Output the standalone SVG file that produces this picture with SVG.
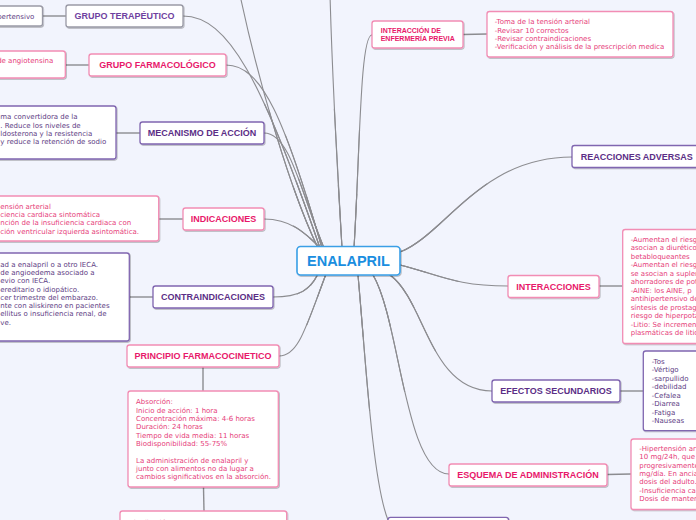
<svg xmlns="http://www.w3.org/2000/svg" xmlns:xlink="http://www.w3.org/1999/xlink" width="696" height="520" viewBox="0 0 696 520">
<defs>
<filter id="sh" x="-10%" y="-10%" width="130%" height="140%">
<feDropShadow dx="0.8" dy="1" stdDeviation="0.7" flood-color="#000" flood-opacity="0.28"/>
</filter>
<style>
.bg{fill:#f2f4fd}
.con{fill:none;stroke:#8c8c90;stroke-linecap:round}
.w1{stroke-width:1.1}
.w2{stroke-width:1.8;stroke-dasharray:0 45 55}
.w3{stroke-width:2.6;stroke-dasharray:0 75 25}
.lnk{fill:none;stroke:#8c8c90;stroke-width:1.4}
.box{fill:#ffffff;stroke-width:1.3;filter:url(#sh)}
.pk{stroke:#f28db4}
.pu{stroke:#8066b0}
.gr{stroke:#9a9aa6}
.bl{stroke:#3a9fe6;stroke-width:1.6}
.lbl{font-family:"Liberation Sans",Arial,sans-serif;font-weight:bold;font-size:9px}
.lp{fill:#e8186a}
.lu{fill:#5b2e86}
.lg{fill:#6f3fa0}
.det{font-family:"DejaVu Sans",Verdana,sans-serif;font-size:7px}
.dp{fill:#e6407a}
.du{fill:#5e3d84}
.main{font-family:"Liberation Sans",Arial,sans-serif;font-weight:bold;font-size:14.5px;fill:#1a8ee0}
</style>
</defs>
<rect class="bg" x="0" y="0" width="696" height="520"/>

<g id="connectors">
<path id="c1" class="con w1" pathLength="100" d="M 240,-5 C 258,80 290,190 318,248"/>
<path id="c2" class="con w1" pathLength="100" d="M 183,16 C 228,16 262,80 320,248"/>
<path id="c3" class="con w1" pathLength="100" d="M 226,65 C 262,65 285,120 322,248"/>
<path id="c4" class="con w1" pathLength="100" d="M 264,133 C 290,133 300,190 324,248"/>
<path id="c5" class="con w1" pathLength="100" d="M 264,219 C 290,219 305,232 322,250"/>
<path id="c6" class="con w1" pathLength="100" d="M 273,297 C 300,297 310,290 318,274"/>
<path id="c7" class="con w1" pathLength="100" d="M 279,356 C 298,356 305,330 326,274"/>
<path id="c8" class="con w1" pathLength="100" d="M 330,-5 C 333,100 338,180 342,248"/>
<path id="c9" class="con w1" pathLength="100" d="M 372,35 C 360,35 360,150 354,248"/>
<path id="c10" class="con w1" pathLength="100" d="M 572,157 C 480,157 445,235 400,252"/>
<path id="c11" class="con w1" pathLength="100" d="M 508,286 C 455,286 440,275 400,265"/>
<path id="c12" class="con w1" pathLength="100" d="M 492,391 C 430,391 425,300 390,275"/>
<path id="c13" class="con w1" pathLength="100" d="M 449,474 C 405,474 400,320 373,275"/>
<path id="c14" class="con w1" pathLength="100" d="M 388,520 C 372,480 365,350 358,275"/>
<use xlink:href="#c1" class="con w2"/><use xlink:href="#c1" class="con w3"/>
<use xlink:href="#c2" class="con w2"/><use xlink:href="#c2" class="con w3"/>
<use xlink:href="#c3" class="con w2"/><use xlink:href="#c3" class="con w3"/>
<use xlink:href="#c4" class="con w2"/><use xlink:href="#c4" class="con w3"/>
<use xlink:href="#c5" class="con w2"/><use xlink:href="#c5" class="con w3"/>
<use xlink:href="#c6" class="con w2"/><use xlink:href="#c6" class="con w3"/>
<use xlink:href="#c7" class="con w2"/><use xlink:href="#c7" class="con w3"/>
<use xlink:href="#c8" class="con w2"/><use xlink:href="#c8" class="con w3"/>
<use xlink:href="#c9" class="con w2"/><use xlink:href="#c9" class="con w3"/>
<use xlink:href="#c10" class="con w2"/><use xlink:href="#c10" class="con w3"/>
<use xlink:href="#c11" class="con w2"/><use xlink:href="#c11" class="con w3"/>
<use xlink:href="#c12" class="con w2"/><use xlink:href="#c12" class="con w3"/>
<use xlink:href="#c13" class="con w2"/><use xlink:href="#c13" class="con w3"/>
<use xlink:href="#c14" class="con w2"/><use xlink:href="#c14" class="con w3"/>
<path class="lnk" d="M 42,16 L 66,16"/>
<path class="lnk" d="M 65,65 L 89,65"/>
<path class="lnk" d="M 116,133 L 140,133"/>
<path class="lnk" d="M 159,219 L 183,219"/>
<path class="lnk" d="M 129,297 L 153,297"/>
<path class="lnk" d="M 203,367 L 203,391"/>
<path class="lnk" d="M 203.5,487 L 204,511"/>
<path class="lnk" d="M 463,34.5 L 487,34"/>
<path class="lnk" d="M 599,286 L 623,286"/>
<path class="lnk" d="M 620,391 L 643,391"/>
<path class="lnk" d="M 607,474.5 L 631,474"/>
</g>

<g id="n-grupo-terapeutico">
<rect class="box gr" x="-5" y="6" width="47.5" height="20" rx="2.5"/>
<text class="det du" x="34.3" y="18.6" text-anchor="end">pertensivo</text>
<rect class="box gr" x="66" y="5" width="117" height="22" rx="2.5"/>
<text class="lbl lg" x="124.5" y="19.2" text-anchor="middle">GRUPO TERAPÉUTICO</text>
</g>

<g id="n-grupo-farmacologico">
<rect class="box pk" x="-5" y="51" width="70.3" height="27" rx="2.5"/>
<text class="det dp" x="53.3" y="63.2" text-anchor="end">de angiotensina</text>
<rect class="box pk" x="89" y="54" width="137" height="22" rx="2.5"/>
<text class="lbl lp" x="157.5" y="68.2" text-anchor="middle">GRUPO FARMACOLÓGICO</text>
</g>

<g id="n-mecanismo">
<rect class="box pu" x="-5" y="106" width="121" height="53" rx="2.5"/>
<text class="det du"><tspan x="0.3" y="119.2">ma convertidora de la</tspan><tspan x="0.3" y="127.5">. Reduce los niveles de</tspan><tspan x="0.3" y="135.8">ldosterona y la resistencia</tspan><tspan x="0.3" y="144.1">y reduce la retención de sodio</tspan></text>
<rect class="box pu" x="140" y="122" width="124" height="22" rx="2.5"/>
<text class="lbl lu" x="202" y="136.2" text-anchor="middle">MECANISMO DE ACCIÓN</text>
</g>

<g id="n-indicaciones">
<rect class="box pk" x="-5" y="196" width="163.7" height="45" rx="2.5"/>
<text class="det dp"><tspan x="0.3" y="208.5">ensión arterial</tspan><tspan x="0.3" y="216.9">ciencia cardiaca sintomática</tspan><tspan x="0.3" y="225.3">nción de la insuficiencia cardiaca con</tspan><tspan x="0.3" y="233.7">ción ventricular izquierda asintomática.</tspan></text>
<rect class="box pk" x="183" y="208" width="81" height="22" rx="2.5"/>
<text class="lbl lp" x="223.5" y="222.2" text-anchor="middle">INDICACIONES</text>
</g>

<g id="n-contraindicaciones">
<rect class="box pu" x="-5" y="253" width="134.3" height="88" rx="2.5"/>
<text class="det du"><tspan x="0.3" y="266.6">ad a enalapril o a otro IECA.</tspan><tspan x="0.3" y="274.9">de angioedema asociado a</tspan><tspan x="0.3" y="283.2">evio con IECA.</tspan><tspan x="0.3" y="291.5">ereditario o idiopático.</tspan><tspan x="0.3" y="299.8">cer trimestre del embarazo.</tspan><tspan x="0.3" y="308.1">nte con aliskireno en pacientes</tspan><tspan x="0.3" y="316.4">ellitus o insuficiencia renal, de</tspan><tspan x="0.3" y="324.7">ve.</tspan></text>
<rect class="box pu" x="153" y="286" width="120" height="22" rx="2.5"/>
<text class="lbl lu" x="213" y="300.2" text-anchor="middle">CONTRAINDICACIONES</text>
</g>

<g id="n-principio">
<rect class="box pk" x="127" y="345" width="152" height="22" rx="2.5"/>
<text class="lbl lp" x="203" y="359.2" text-anchor="middle">PRINCIPIO FARMACOCINETICO</text>
<rect class="box pk" x="128" y="391" width="150.3" height="96" rx="2.5"/>
<text class="det dp"><tspan x="136" y="404.2">Absorción:</tspan><tspan x="136" y="412.55">Inicio de acción: 1 hora</tspan><tspan x="136" y="420.9">Concentración máxima: 4-6 horas</tspan><tspan x="136" y="429.25">Duración: 24 horas</tspan><tspan x="136" y="437.6">Tiempo de vida media: 11 horas</tspan><tspan x="136" y="445.95">Biodisponibilidad: 55-75%</tspan><tspan x="136" y="462.65">La administración de enalapril y</tspan><tspan x="136" y="471">junto con alimentos no da lugar a</tspan><tspan x="136" y="479.35">cambios significativos en la absorción.</tspan></text>
<rect class="box pk" x="120" y="511" width="166.7" height="20" rx="2.5"/>
<text class="det dp" x="128.3" y="524.5">Distribución:</text>
</g>

<g id="n-interaccion-enfermeria">
<rect class="box pk" x="372" y="21" width="91" height="27" rx="2.5"/>
<text class="lbl lp" style="font-size:7px"><tspan x="380.7" y="32.8">INTERACCIÓN DE</tspan><tspan x="380.7" y="41.2">ENFERMERÍA PREVIA</tspan></text>
<rect class="box pk" x="487" y="11.5" width="186" height="45.5" rx="2.5"/>
<text class="det dp"><tspan x="494.7" y="24.2">-Toma de la tensión arterial</tspan><tspan x="494.7" y="32.6">-Revisar 10 correctos</tspan><tspan x="494.7" y="41">-Revisar contraindicaciones</tspan><tspan x="494.7" y="49.4">-Verificación y análisis de la prescripción medica</tspan></text>
</g>

<g id="n-reacciones">
<rect class="box pu" x="572" y="145.5" width="130" height="22" rx="2.5"/>
<text class="lbl lu" x="580.7" y="159.7">REACCIONES ADVERSAS</text>
</g>

<g id="n-interacciones">
<rect class="box pk" x="508" y="275.5" width="91" height="22" rx="2.5"/>
<text class="lbl lp" x="553.5" y="289.7" text-anchor="middle">INTERACCIONES</text>
<rect class="box pk" x="622.7" y="229.5" width="80" height="114" rx="2.5"/>
<text class="det dp"><tspan x="630.7" y="241.8">-Aumentan el riesg</tspan><tspan x="630.7" y="250.3">asocian a diurético</tspan><tspan x="630.7" y="258.8">betabloqueantes</tspan><tspan x="630.7" y="267.3">-Aumentan el riesg</tspan><tspan x="630.7" y="275.8">se asocian a suplem</tspan><tspan x="630.7" y="284.3">ahorradores de pot</tspan><tspan x="630.7" y="292.8">-AINE: los AINE, p</tspan><tspan x="630.7" y="301.3">antihipertensivo de</tspan><tspan x="630.7" y="309.8">síntesis de prostag</tspan><tspan x="630.7" y="318.3">riesgo de hiperpota</tspan><tspan x="630.7" y="326.8">-Litio: Se incremen</tspan><tspan x="630.7" y="335.3">plasmáticas de litio</tspan></text>
</g>

<g id="n-efectos">
<rect class="box pu" x="492" y="380" width="128" height="22" rx="2.5"/>
<text class="lbl lu" x="556" y="394.2" text-anchor="middle">EFECTOS SECUNDARIOS</text>
<rect class="box pu" x="643.3" y="351" width="60" height="79.7" rx="2.5"/>
<text class="det du"><tspan x="651.7" y="363.8">-Tos</tspan><tspan x="651.7" y="372.25">-Vértigo</tspan><tspan x="651.7" y="380.7">-sarpullido</tspan><tspan x="651.7" y="389.15">-debilidad</tspan><tspan x="651.7" y="397.6">-Cefalea</tspan><tspan x="651.7" y="406.05">-Diarrea</tspan><tspan x="651.7" y="414.5">-Fatiga</tspan><tspan x="651.7" y="422.95">-Nauseas</tspan></text>
</g>

<g id="n-esquema">
<rect class="box pk" x="449" y="464" width="158" height="22" rx="2.5"/>
<text class="lbl lp" x="528" y="478.2" text-anchor="middle">ESQUEMA DE ADMINISTRACIÓN</text>
<rect class="box pk" x="631" y="439" width="70" height="70.5" rx="2.5"/>
<text class="det dp"><tspan x="639.3" y="450.8">-Hipertensión ar</tspan><tspan x="639.3" y="459.15">10 mg/24h, que</tspan><tspan x="639.3" y="467.5">progresivamente</tspan><tspan x="639.3" y="475.85">mg/día. En ancia</tspan><tspan x="639.3" y="484.2">dosis del adulto.</tspan><tspan x="639.3" y="492.55">-Insuficiencia ca</tspan><tspan x="639.3" y="500.9">Dosis de manten</tspan></text>
</g>

<g id="n-bottom">
<rect class="box pu" x="388" y="517.3" width="120.5" height="20" rx="2.5"/>
</g>

<g id="n-enalapril">
<rect class="box bl" x="297" y="246.5" width="103" height="28.5" rx="3.5"/>
<text class="main" x="348.5" y="266.2" text-anchor="middle">ENALAPRIL</text>
</g>
</svg>
